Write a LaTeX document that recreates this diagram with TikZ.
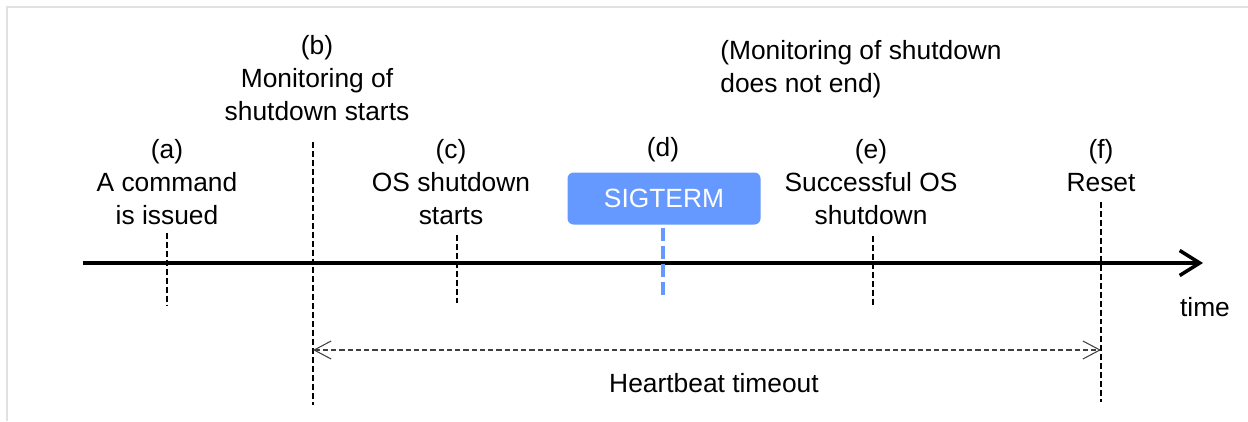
\documentclass[tikz,border=0pt]{standalone}
\usepackage{fontspec}
\setmainfont{Liberation Sans}
\usetikzlibrary{arrows.meta}
\definecolor{sigblue}{RGB}{102,153,255}
\definecolor{framegray}{RGB}{225,225,225}

\begin{document}
\begin{tikzpicture}[font=\fontsize{15}{18.8}\selectfont,
  lbl/.style={align=center,inner sep=0pt},
  markline/.style={line width=.6pt,dash pattern=on 3.4pt off 1.7pt},
  sigbox/.style={fill=sigblue,text=white,rounded corners=.12cm,minimum width=3.86cm,minimum height=1.04cm,inner sep=0pt},
  sigline/.style={sigblue,line width=2.2pt,dash pattern=on 7.4pt off 2.8pt},
  hbline/.style={black!75,line width=.6pt,dash pattern=on 3pt off 1.7pt}]
\useasboundingbox (0,0) rectangle (24.96,8.42);
\draw[framegray,line width=.8pt] (0.14,0) -- (0.14,8.28) -- (24.96,8.28);
% time axis
\coordinate (tStart) at (1.66,3.16);
\coordinate (tEnd) at (24.06,3.16);
\draw[line width=2pt,-{Straight Barb[length=4mm,width=5mm]}] (tStart) -- (tEnd);
\node[lbl] (time) at (24.1,2.28) {time};
% (a)
\node[lbl] (cmd) at (3.34,4.78) {(a)\\A command\\is issued};
\coordinate (aTop) at (3.34,3.76);
\coordinate (aBot) at (3.34,2.32);
\draw[markline] (aTop) -- (aBot);
% (b)
\node[lbl] (monStart) at (6.34,6.86) {(b)\\Monitoring of\\shutdown starts};
\coordinate (bTop) at (6.26,5.58);
\coordinate (bBot) at (6.26,0.32);
\draw[markline] (bTop) -- (bBot);
% (c)
\node[lbl] (osStart) at (9.02,4.78) {(c)\\OS shutdown\\starts};
\coordinate (cTop) at (9.14,3.72);
\coordinate (cBot) at (9.14,2.36);
\draw[markline] (cTop) -- (cBot);
% (d)
\node[lbl] (sigLbl) at (13.26,5.42) {(d)};
\node[sigbox] (sigterm) at (13.28,4.45) {SIGTERM};
\coordinate (dTop) at (13.26,3.86);
\coordinate (dBot) at (13.26,2.46);
\draw[sigline] (dTop) -- (dBot);
% (e)
\node[lbl] (osDone) at (17.42,4.78) {(e)\\Successful OS\\shutdown};
\coordinate (eTop) at (17.46,3.7);
\coordinate (eBot) at (17.46,2.3);
\draw[markline] (eTop) -- (eBot);
% (f)
\node[lbl] (reset) at (22.02,5.11) {(f)\\Reset};
\coordinate (fTop) at (22.02,4.38);
\coordinate (fBot) at (22.02,0.38);
\draw[markline] (fTop) -- (fBot);
\node[lbl,align=left,anchor=west] (noEnd) at (14.4,7.03) {(Monitoring of shutdown\\does not end)};
% heartbeat timeout
\coordinate (hbL) at (6.26,1.42);
\coordinate (hbR) at (22.02,1.42);
\draw[hbline,{Straight Barb[length=3.4mm,width=3.6mm]}-{Straight Barb[length=3.4mm,width=3.6mm]}] (hbL) -- (hbR);
\node[lbl] (hbTime) at (14.28,0.76) {Heartbeat timeout};
\end{tikzpicture}
\end{document}
